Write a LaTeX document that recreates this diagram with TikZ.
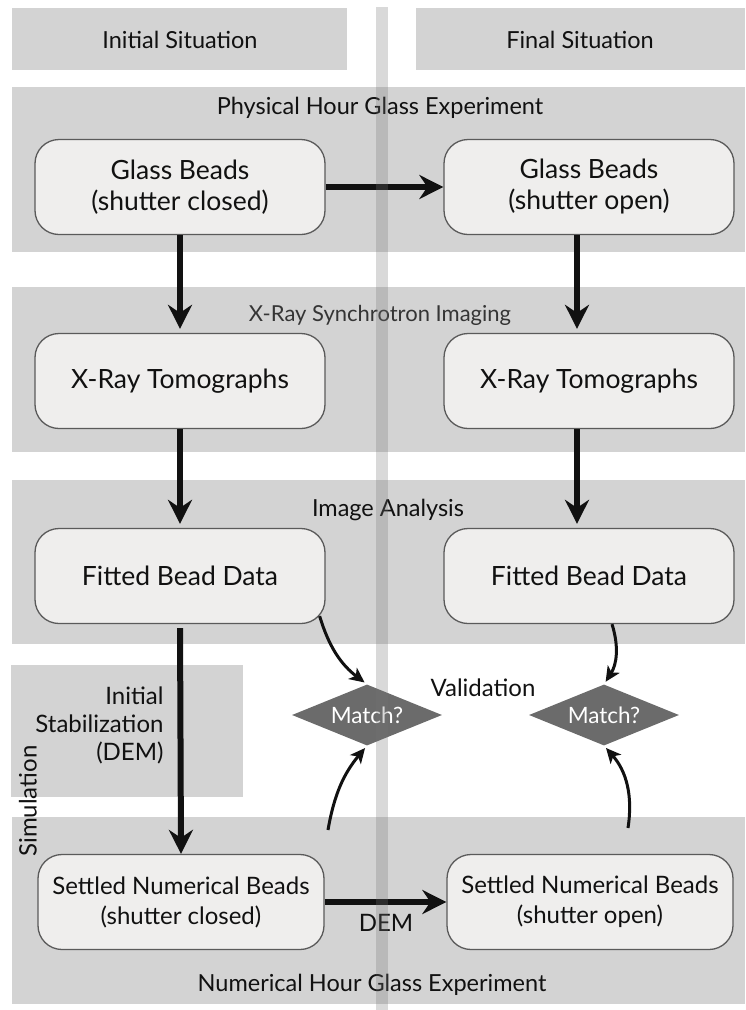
\documentclass[tikz,border=0pt]{standalone}
\usepackage{fontspec}
\setmainfont{Lato}
\usetikzlibrary{shapes.geometric,arrows.meta}
\definecolor{bandgray}{HTML}{D3D3D3}
\definecolor{boxfill}{HTML}{EFEEED}
\definecolor{boxline}{HTML}{5A5A5A}
\definecolor{decfill}{HTML}{6B6B6B}
\definecolor{barcol}{HTML}{737373}
\definecolor{ink}{HTML}{111111}
\begin{document}
\begin{tikzpicture}[x=1pt,y=-1pt,
  stage/.style={draw=boxline, line width=1.3pt, fill=boxfill, rounded corners=24pt,
    minimum width=290pt, minimum height=95pt, align=center,
    font=\fontsize{26.5}{31}\selectfont, text=ink},
  simstage/.style={stage, minimum width=286pt, font=\fontsize{24}{30}\selectfont},
  bandtitle/.style={font=\fontsize{23.5}{28}\selectfont, text=ink},
  smalltitle/.style={font=\fontsize{22}{26}\selectfont, text=ink!85},
  decision/.style={shape=diamond, fill=decfill, inner sep=0pt, aspect=2.46,
    minimum width=150pt, minimum height=61pt, text=white,
    font=\fontsize{22.5}{26}\selectfont},
  bigarrow/.style={draw=ink, line width=6pt,
    -{Stealth[length=24pt,width=24pt,inset=8pt]}},
  curvearrow/.style={draw=ink, line width=3pt,
    -{Stealth[length=15pt,width=14pt,inset=4pt]}},
  plain/.style={font=\fontsize{24}{28}\selectfont, text=ink}
]
\useasboundingbox (0,0) rectangle (745,1010);

% column headers
\fill[bandgray] (12,8) rectangle (347,70);
\fill[bandgray] (416,8) rectangle (745,70);
\node[bandtitle] (hinit) at (180,40) {Initial Situation};
\node[bandtitle] (hfinal) at (580,40) {Final Situation};

% horizontal bands
\fill[bandgray] (12,87) rectangle (745,252);
\fill[bandgray] (12,287) rectangle (745,452);
\fill[bandgray] (12,480) rectangle (745,644);
\fill[bandgray] (11,665) rectangle (243,797);
\fill[bandgray] (12,817) rectangle (745,1004);

\node[bandtitle] (tphys) at (380,108) {Physical Hour Glass Experiment};
\node[smalltitle] (txray) at (380,315) {X-Ray Synchrotron Imaging};
\node[bandtitle] (timg) at (388,510) {Image Analysis};
\node[bandtitle] (tnum) at (372,985) {Numerical Hour Glass Experiment};

% process boxes
\node[stage] (gbc) at (180,187) {Glass Beads\\(shutter closed)};
\node[stage] (gbo) at (589,187) {Glass Beads\\(shutter open)};
\node[stage] (xrl) at (180,381) {X-Ray Tomographs};
\node[stage] (xrr) at (589,381) {X-Ray Tomographs};
\node[stage] (fbl) at (180,576) {Fitted Bead Data};
\node[stage] (fbr) at (589,576) {Fitted Bead Data};
\node[simstage] (snl) at (181,902) {Settled Numerical Beads\\(shutter closed)};
\node[simstage] (sno) at (590,902) {Settled Numerical Beads\\(shutter open)};

% validation
\node[decision] (dml) at (367,715) {Match?};
\node[decision] (dmr) at (604,715) {Match?};
\node[plain] (valid) at (483,688) {Validation};

% simulation labels
\node[plain, anchor=east, align=right, font=\fontsize{24}{28}\selectfont] (stab) at (167,725) {Initial\\Stabilization\\(DEM)};
\node[plain, rotate=90] (simu) at (28,801) {Simulation};
\node[plain] (dem) at (386,923) {DEM};

% main flow
\draw[bigarrow] (gbc.east) -- (gbo.west);
\draw[bigarrow, shorten >=4pt] (gbc.south) -- (xrl.north);
\draw[bigarrow, shorten >=4pt] ([xshift=-12pt]gbo.south) -- ([xshift=-12pt]xrr.north);
\draw[bigarrow, shorten >=4pt] (xrl.south) -- (fbl.north);
\draw[bigarrow, shorten >=4pt] ([xshift=-12pt]xrr.south) -- ([xshift=-12pt]fbr.north);
\draw[bigarrow, shorten <=4pt] (fbl.south) -- (snl.north);
\draw[bigarrow] (snl.east) -- (sno.west);

% comparisons
\coordinate (cl) at (328,830);
\coordinate (cr) at (628,828);
\draw[curvearrow, shorten >=3pt] ([shift={(-6,-8)}]fbl.south east) to[bend right=18] (dml.north);
\draw[curvearrow, shorten >=3pt] (cl) to[bend left=15] (dml.south);
\draw[curvearrow, shorten >=3pt] ([xshift=23pt]fbr.south) to[bend left=25] (dmr.north);
\draw[curvearrow, shorten >=3pt] (cr) to[bend right=25] (dmr.south);

% translucent divider between the two situations
\fill[barcol, opacity=0.27] (376,7) rectangle (388,1010);
\end{tikzpicture}
\end{document}
